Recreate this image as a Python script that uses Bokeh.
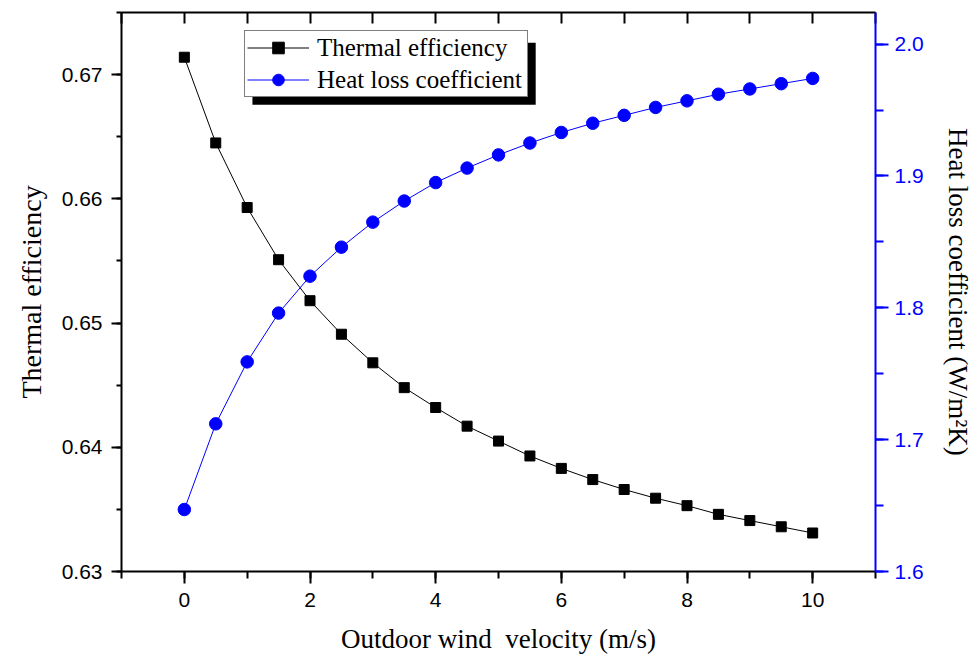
from bokeh.plotting import figure
from bokeh.models import (Range1d, LinearAxis, SingleIntervalTicker, Legend, LegendItem,
                          NumeralTickFormatter, BoxAnnotation)
from bokeh.embed import file_html
from bokeh.resources import INLINE

# ---- data ----
velocity = [0, 0.5, 1, 1.5, 2, 2.5, 3, 3.5, 4, 4.5, 5,
            5.5, 6, 6.5, 7, 7.5, 8, 8.5, 9, 9.5, 10]
thermal_efficiency = [0.6714, 0.6645, 0.6593, 0.6551, 0.6518, 0.6491, 0.6468, 0.6448,
                      0.6432, 0.6417, 0.6405, 0.6393, 0.6383, 0.6374, 0.6366, 0.6359,
                      0.6353, 0.6346, 0.6341, 0.6336, 0.6331]
heat_loss_coefficient = [1.647, 1.712, 1.759, 1.796, 1.824, 1.846, 1.865, 1.881,
                         1.895, 1.906, 1.916, 1.925, 1.933, 1.940, 1.946, 1.952,
                         1.957, 1.962, 1.966, 1.970, 1.974]
x_label = "Outdoor wind \u00a0velocity (m/s)"
y_left_label = "Thermal efficiency"
y_right_label = "Heat loss coefficient (W/m\u00b2K)"
series_names = ["Thermal efficiency", "Heat loss coefficient"]

SANS = "Liberation Sans"
SERIF = "Liberation Serif"
BLUE = "#0000FF"

p = figure(width=975, height=662, x_range=Range1d(-1, 11), y_range=Range1d(0.63, 0.675),
           output_backend="svg", toolbar_location=None,
           min_border_left=121, min_border_right=98, min_border_top=12, min_border_bottom=91)
p.extra_y_ranges = {"hl": Range1d(1.6, 2.024)}
p.xgrid.visible = False
p.ygrid.visible = False
p.outline_line_color = None
p.background_fill_color = "white"
p.border_fill_color = "white"

# bottom axis
xa = p.xaxis[0]
xa.ticker = SingleIntervalTicker(interval=2, num_minor_ticks=2)
xa.axis_label = x_label
xa.axis_label_text_font = SERIF
xa.axis_label_text_font_size = "27px"
xa.axis_label_text_font_style = "normal"
xa.axis_label_text_color = "black"
xa.axis_label_standoff = 14
xa.major_label_text_font = SANS
xa.major_label_text_font_size = "21px"
xa.major_label_text_color = "black"
xa.major_label_standoff = 9
xa.major_tick_out = 12
xa.major_tick_in = 0
xa.minor_tick_out = 7
xa.minor_tick_in = 0
xa.axis_line_width = 2
xa.major_tick_line_width = 2
xa.minor_tick_line_width = 2

# left axis
ya = p.yaxis[0]
ya.ticker = SingleIntervalTicker(interval=0.01, num_minor_ticks=2)
ya.formatter = NumeralTickFormatter(format="0.00")
ya.axis_label = y_left_label
ya.axis_label_text_font = SERIF
ya.axis_label_text_font_size = "28px"
ya.axis_label_text_font_style = "normal"
ya.axis_label_text_color = "black"
ya.axis_label_standoff = 12
ya.major_label_text_font = SANS
ya.major_label_text_font_size = "21px"
ya.major_label_text_color = "black"
ya.major_label_standoff = 9
ya.major_tick_out = 10
ya.major_tick_in = 0
ya.minor_tick_out = 5
ya.minor_tick_in = 0
ya.axis_line_width = 2
ya.major_tick_line_width = 2
ya.minor_tick_line_width = 2

# right axis
ra = LinearAxis(y_range_name="hl",
                ticker=SingleIntervalTicker(interval=0.1, num_minor_ticks=2),
                formatter=NumeralTickFormatter(format="0.0"),
                axis_label=y_right_label, axis_label_text_font=SERIF,
                axis_label_text_font_size="27px", axis_label_text_font_style="normal",
                axis_label_text_color="black", axis_label_standoff=16,
                major_label_text_font=SANS, major_label_text_font_size="21px",
                major_label_text_color=BLUE, major_label_standoff=6,
                axis_line_color=BLUE, major_tick_line_color=BLUE, minor_tick_line_color=BLUE,
                axis_line_width=2, major_tick_line_width=2, minor_tick_line_width=2,
                major_tick_out=13, major_tick_in=0, minor_tick_out=8, minor_tick_in=0)
p.add_layout(ra, "right")

# top axis (ticks only)
ta = LinearAxis(ticker=SingleIntervalTicker(interval=1, num_minor_ticks=0),
                major_label_overrides={i: "" for i in range(-1, 12)},
                major_label_text_font_size="1px", major_label_standoff=0,
                axis_line_width=2, major_tick_line_width=2,
                major_tick_in=11, major_tick_out=0, minor_tick_in=0, minor_tick_out=0)
p.add_layout(ta, "above")

# data
l1 = p.line(velocity, thermal_efficiency, line_color="black", line_width=1)
m1 = p.scatter(velocity, thermal_efficiency, marker="square", size=10,
               fill_color="black", line_color="black")
l2 = p.line(velocity, heat_loss_coefficient, line_color=BLUE, line_width=1, y_range_name="hl")
m2 = p.scatter(velocity, heat_loss_coefficient, marker="circle", size=12.5,
               fill_color=BLUE, line_color=BLUE, y_range_name="hl")

# legend shadow
shadow = BoxAnnotation(left=1.084, right=5.592, top=0.67256, bottom=0.66758,
                       fill_color="black", fill_alpha=1.0, line_color=None)
p.add_layout(shadow)

legend = Legend(items=[LegendItem(label=series_names[0], renderers=[l1, m1]),
                       LegendItem(label=series_names[1], renderers=[l2, m2])],
                location=(123, 474), orientation="vertical",
                label_text_font=SERIF, label_text_font_size="25px", label_text_color="black",
                glyph_width=62, glyph_height=29, label_height=29, label_width=208, spacing=3,
                padding=2, margin=0, label_standoff=8,
                border_line_color="black", border_line_width=1,
                background_fill_color="white", background_fill_alpha=1.0)
p.add_layout(legend, "center")

open("out.html", "w").write(file_html(p, INLINE))
